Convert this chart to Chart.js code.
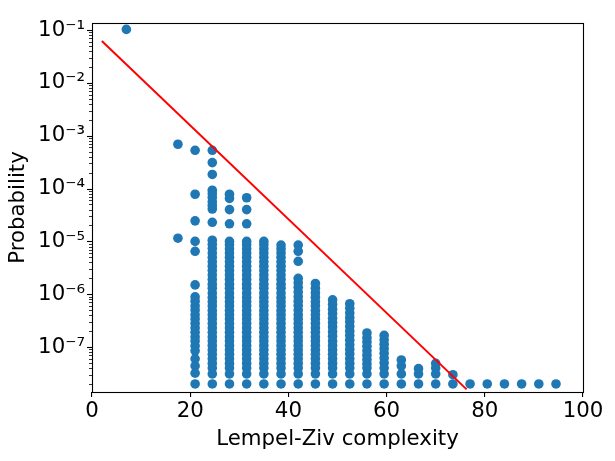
<!DOCTYPE html>
<html>
<head>
<meta charset="utf-8">
<script src="https://cdn.jsdelivr.net/npm/chart.js@4.4.1/dist/chart.umd.min.js"></script>
<style>
    html, body { margin: 0; padding: 0; background: #fff; }
    #wrap { width: 615px; height: 461px; }
</style>
</head>
<body>
<div id="wrap"><canvas id="lzChart" width="615" height="461"></canvas></div>
<script>
// Значения сложности Лемпеля-Зива (столбцы точек)
const lzComplexity = [7, 17.5, 21, 24.5, 28, 31.5, 35, 38.5, 42, 45.5, 49, 52.5, 56, 59.5, 63, 66.5, 70, 73.5, 77, 80.5, 84, 87.5, 91, 94.5];

// Вероятности для каждого столбца (оценены по картинке)
const probByColumn = [
    [0.103],
    [6.9e-4, 1.15e-5],
    [5.3e-4, 7.8e-5, 2.45e-5, 1.0e-5, 6.5e-6, 1.5e-6, 8.9e-7, 7.4e-7, 6e-7, 5e-7, 4.1e-7, 3.4e-7, 2.8e-7, 2.3e-7, 1.9e-7, 1.55e-7, 1.3e-7, 1.05e-7, 8.5e-8, 6e-8, 4.4e-8, 3.2e-8, 2e-8],
    [5.3e-4, 3.1e-4, 1.85e-4, 9.3e-5, 8e-5, 6.8e-5, 5.6e-5, 4.8e-5, 4.1e-5, 2.3e-5, 1.05e-5, 8.8e-6, 7.3e-6, 6e-6, 5e-6, 4.1e-6, 3.4e-6, 2.8e-6, 2.3e-6, 1.9e-6, 1.55e-6, 1.3e-6, 1.05e-6, 8.7e-7, 7.2e-7, 6e-7, 4.9e-7, 4.1e-7, 3.4e-7, 2.8e-7, 2.3e-7, 1.9e-7, 1.55e-7, 1.3e-7, 1.07e-7, 8.8e-8, 7.3e-8, 6e-8, 4.9e-8, 4e-8, 3.1e-8, 2e-8],
    [7.8e-5, 6.5e-5, 4e-5, 2.15e-5, 1.0e-5, 8.6e-6, 7.2e-6, 6e-6, 5e-6, 4.1e-6, 3.4e-6, 2.8e-6, 2.3e-6, 1.9e-6, 1.55e-6, 1.3e-6, 1.05e-6, 8.7e-7, 7.2e-7, 6e-7, 4.9e-7, 4.1e-7, 3.4e-7, 2.8e-7, 2.3e-7, 1.9e-7, 1.55e-7, 1.3e-7, 1.07e-7, 8.8e-8, 7.3e-8, 6e-8, 4.9e-8, 4e-8, 3.1e-8, 2e-8],
    [6.7e-5, 4e-5, 2.15e-5, 1.0e-5, 8.6e-6, 7.2e-6, 6e-6, 5e-6, 4.1e-6, 3.4e-6, 2.8e-6, 2.3e-6, 1.9e-6, 1.55e-6, 1.3e-6, 1.05e-6, 8.7e-7, 7.2e-7, 6e-7, 4.9e-7, 4.1e-7, 3.4e-7, 2.8e-7, 2.3e-7, 1.9e-7, 1.55e-7, 1.3e-7, 1.07e-7, 8.8e-8, 7.3e-8, 6e-8, 4.9e-8, 4e-8, 3.1e-8, 2e-8],
    [1.0e-5, 8.6e-6, 7.2e-6, 6e-6, 5e-6, 4.1e-6, 3.4e-6, 2.8e-6, 2.3e-6, 1.9e-6, 1.55e-6, 1.3e-6, 1.05e-6, 8.7e-7, 7.2e-7, 6e-7, 4.9e-7, 4.1e-7, 3.4e-7, 2.8e-7, 2.3e-7, 1.9e-7, 1.55e-7, 1.3e-7, 1.07e-7, 8.8e-8, 7.3e-8, 6e-8, 4.9e-8, 4e-8, 3.1e-8, 2e-8],
    [8.5e-6, 7.2e-6, 6e-6, 5e-6, 4.1e-6, 3.4e-6, 2.8e-6, 2.3e-6, 1.9e-6, 1.55e-6, 1.3e-6, 1.05e-6, 8.7e-7, 7.2e-7, 6e-7, 4.9e-7, 4.1e-7, 3.4e-7, 2.8e-7, 2.3e-7, 1.9e-7, 1.55e-7, 1.3e-7, 1.07e-7, 8.8e-8, 7.3e-8, 6e-8, 4.9e-8, 4e-8, 3.1e-8, 2e-8],
    [8.5e-6, 6.5e-6, 4.2e-6, 2.0e-6, 1.65e-6, 1.35e-6, 1.1e-6, 9e-7, 7.4e-7, 6.1e-7, 5e-7, 4.1e-7, 3.4e-7, 2.8e-7, 2.3e-7, 1.9e-7, 1.55e-7, 1.3e-7, 1.07e-7, 8.8e-8, 7.3e-8, 6e-8, 4.9e-8, 4e-8, 3.1e-8, 2e-8],
    [1.6e-6, 1.3e-6, 1.07e-6, 8.8e-7, 7.2e-7, 6e-7, 4.9e-7, 4.1e-7, 3.4e-7, 2.8e-7, 2.3e-7, 1.9e-7, 1.55e-7, 1.3e-7, 1.07e-7, 8.8e-8, 7.3e-8, 6e-8, 4.9e-8, 4e-8, 3.1e-8, 2e-8],
    [7.8e-7, 6.4e-7, 5.2e-7, 4.3e-7, 3.5e-7, 2.9e-7, 2.4e-7, 1.95e-7, 1.6e-7, 1.3e-7, 1.07e-7, 8.8e-8, 7.3e-8, 6e-8, 4.9e-8, 4e-8, 3.1e-8, 2e-8],
    [6.6e-7, 5.4e-7, 4.4e-7, 3.6e-7, 3e-7, 2.45e-7, 2e-7, 1.65e-7, 1.35e-7, 1.1e-7, 9e-8, 7.4e-8, 6e-8, 4.9e-8, 4e-8, 3.1e-8, 2e-8],
    [1.85e-7, 1.5e-7, 1.25e-7, 1.03e-7, 8.5e-8, 7e-8, 5.8e-8, 4.8e-8, 4e-8, 3.1e-8, 2e-8],
    [1.66e-7, 1.37e-7, 1.13e-7, 9.3e-8, 7.6e-8, 6.2e-8, 5e-8, 4e-8, 3.1e-8, 2e-8],
    [5.7e-8, 4.4e-8, 3.1e-8, 2e-8],
    [3.9e-8, 3.1e-8, 2e-8],
    [4.9e-8, 4e-8, 3.1e-8, 2e-8],
    [3e-8, 2e-8],
    [2e-8], [2e-8], [2e-8], [2e-8], [2e-8], [2e-8]
];

// Красная линия (аппроксимация)
const fitX = [2, 76.3];
const fitY = [0.062, 1.58e-8];

// Метки оси Y
const yMajorTicks = [1e-7, 1e-6, 1e-5, 1e-4, 1e-3, 1e-2, 1e-1];
const yTickLabels = ['10⁻⁷', '10⁻⁶', '10⁻⁵', '10⁻⁴', '10⁻³', '10⁻²', '10⁻¹'];

const FONT = "'DejaVu Sans', sans-serif";
const FONT_SIZE = 21.3;

// Рамка и малые деления логарифмической оси
const framePlugin = {
    id: 'frame',
    afterDraw(chart) {
        const ctx = chart.ctx;
        const a = chart.chartArea;
        const y = chart.scales.y;
        ctx.save();
        ctx.strokeStyle = '#000';
        for (let k = -8; k <= -1; k++) {
            for (let m = 1; m <= 9; m++) {
                const v = m * Math.pow(10, k);
                if (v < y.min || v > y.max) continue;
                const py = Math.round(y.getPixelForValue(v)) + 0.5;
                const len = m === 1 ? 5 : 3;
                ctx.lineWidth = m === 1 ? 1.1 : 0.8;
                ctx.beginPath();
                ctx.moveTo(a.left - len, py);
                ctx.lineTo(a.left, py);
                ctx.stroke();
            }
        }
        ctx.lineWidth = 1.1;
        ctx.strokeRect(Math.round(a.left) + 0.5, Math.round(a.top) + 0.5,
            Math.round(a.right - a.left), Math.round(a.bottom - a.top));
        ctx.restore();
    }
};

const points = [];
lzComplexity.forEach((x, i) => {
    probByColumn[i].forEach(p => points.push({ x: x, y: p }));
});

new Chart(document.getElementById('lzChart').getContext('2d'), {
    type: 'scatter',
    data: {
        datasets: [
            {
                type: 'line',
                data: fitX.map((x, i) => ({ x: x, y: fitY[i] })),
                borderColor: '#ff0000',
                borderWidth: 2,
                pointRadius: 0,
                fill: false,
                order: 0
            },
            {
                data: points,
                backgroundColor: '#1f77b4',
                borderWidth: 0,
                pointRadius: 4.8,
                order: 1
            }
        ]
    },
    options: {
        responsive: false,
        animation: false,
        devicePixelRatio: 1,
        layout: { padding: { top: 23, right: 32, left: 0, bottom: 0 } },
        plugins: {
            legend: { display: false },
            tooltip: { enabled: false }
        },
        scales: {
            x: {
                type: 'linear',
                min: 0,
                max: 100,
                border: { display: false },
                grid: { drawOnChartArea: false, tickLength: 5, color: '#000', lineWidth: 1.1 },
                ticks: { stepSize: 20, color: '#000', padding: 2, font: { family: FONT, size: FONT_SIZE } },
                title: { display: true, text: 'Lempel-Ziv complexity', color: '#000', padding: { top: 2, bottom: 9 }, font: { family: FONT, size: FONT_SIZE } },
                afterFit(scale) { scale.height = 69; }
            },
            y: {
                type: 'logarithmic',
                min: 1.41e-8,
                max: 0.136,
                border: { display: false },
                grid: { display: false, tickLength: 5 },
                ticks: {
                    color: '#000',
                    padding: 2,
                    font: { family: FONT, size: FONT_SIZE },
                    callback: (v) => {
                        const i = yMajorTicks.findIndex(t => Math.abs(t - v) / t < 1e-6);
                        return i >= 0 ? yTickLabels[i] : '';
                    }
                },
                afterBuildTicks(scale) {
                    scale.ticks = yMajorTicks.map(v => ({ value: v }));
                },
                title: { display: true, text: 'Probability', color: '#000', padding: { top: 6, bottom: 2 }, font: { family: FONT, size: FONT_SIZE } },
                afterFit(scale) { scale.width = 92; }
            }
        }
    },
    plugins: [framePlugin]
});
</script>
</body>
</html>
